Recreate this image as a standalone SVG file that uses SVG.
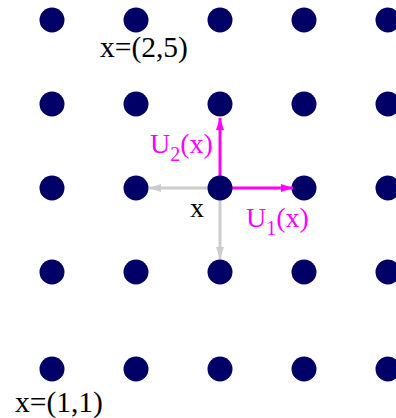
<svg xmlns="http://www.w3.org/2000/svg" width="396" height="418" viewBox="0 0 396 418">
<style>
.dot{fill:#000066}
.t{font-family:"Liberation Serif","Times New Roman",serif;font-size:28px}
.c{font-size:29.5px}
.k{fill:#000}
.m{fill:#ff00ff}
.sub{font-size:20px}
.lm{stroke:#ff00ff;stroke-width:3;fill:none}
.lg{stroke:#cccccc;stroke-width:3;fill:none}
</style>
<defs>
<marker id="am" viewBox="0 0 12 8" refX="12" refY="4" markerWidth="12" markerHeight="8" markerUnits="userSpaceOnUse" orient="auto"><path d="M0,0L12,4L0,8z" fill="#ff00ff"/></marker>
<marker id="ag" viewBox="0 0 12 8" refX="12" refY="4" markerWidth="12" markerHeight="8" markerUnits="userSpaceOnUse" orient="auto"><path d="M0,0L12,4L0,8z" fill="#cccccc"/></marker>
</defs>
<rect width="396" height="418" fill="#fff"/>
<g id="lattice">
<circle class="dot" cx="52" cy="20" r="12.5"/><circle class="dot" cx="136" cy="20" r="12.5"/><circle class="dot" cx="220" cy="20" r="12.5"/><circle class="dot" cx="304" cy="20" r="12.5"/><circle class="dot" cx="388" cy="20" r="12.5"/>
<circle class="dot" cx="52" cy="104" r="12.5"/><circle class="dot" cx="136" cy="104" r="12.5"/><circle class="dot" cx="220" cy="104" r="12.5"/><circle class="dot" cx="304" cy="104" r="12.5"/><circle class="dot" cx="388" cy="104" r="12.5"/>
<circle class="dot" cx="52" cy="188" r="12.5"/><circle class="dot" cx="136" cy="188" r="12.5"/><circle class="dot" cx="304" cy="188" r="12.5"/><circle class="dot" cx="388" cy="188" r="12.5"/>
<circle class="dot" cx="52" cy="272" r="12.5"/><circle class="dot" cx="136" cy="272" r="12.5"/><circle class="dot" cx="220" cy="272" r="12.5"/><circle class="dot" cx="304" cy="272" r="12.5"/><circle class="dot" cx="388" cy="272" r="12.5"/>
<circle class="dot" cx="52" cy="369" r="12.5"/><circle class="dot" cx="136" cy="369" r="12.5"/><circle class="dot" cx="220" cy="369" r="12.5"/><circle class="dot" cx="304" cy="369" r="12.5"/><circle class="dot" cx="388" cy="369" r="12.5"/>
</g>
<g id="connectors">
<line class="lg" x1="220" y1="188" x2="149" y2="188" marker-end="url(#ag)"/>
<line class="lg" x1="220" y1="188" x2="220" y2="259" marker-end="url(#ag)"/>
<line class="lm" x1="220" y1="188" x2="220" y2="118" marker-end="url(#am)"/>
<line class="lm" x1="220" y1="188" x2="293" y2="188" marker-end="url(#am)"/>
</g>
<g id="center">
<circle class="dot" cx="220" cy="188" r="12.5"/>
</g>
<g id="labels">
<text class="t c k" x="100" y="57">x=(2,5)</text>
<text class="t c k" x="15" y="412">x=(1,1)</text>
<text class="t k" x="190" y="217">x</text>
<text class="t m" x="150" y="153">U<tspan class="sub" dy="8">2</tspan><tspan dy="-8">(x)</tspan></text>
<text class="t m" x="246" y="227">U<tspan class="sub" dy="8">1</tspan><tspan dy="-8">(x)</tspan></text>
</g>
</svg>
